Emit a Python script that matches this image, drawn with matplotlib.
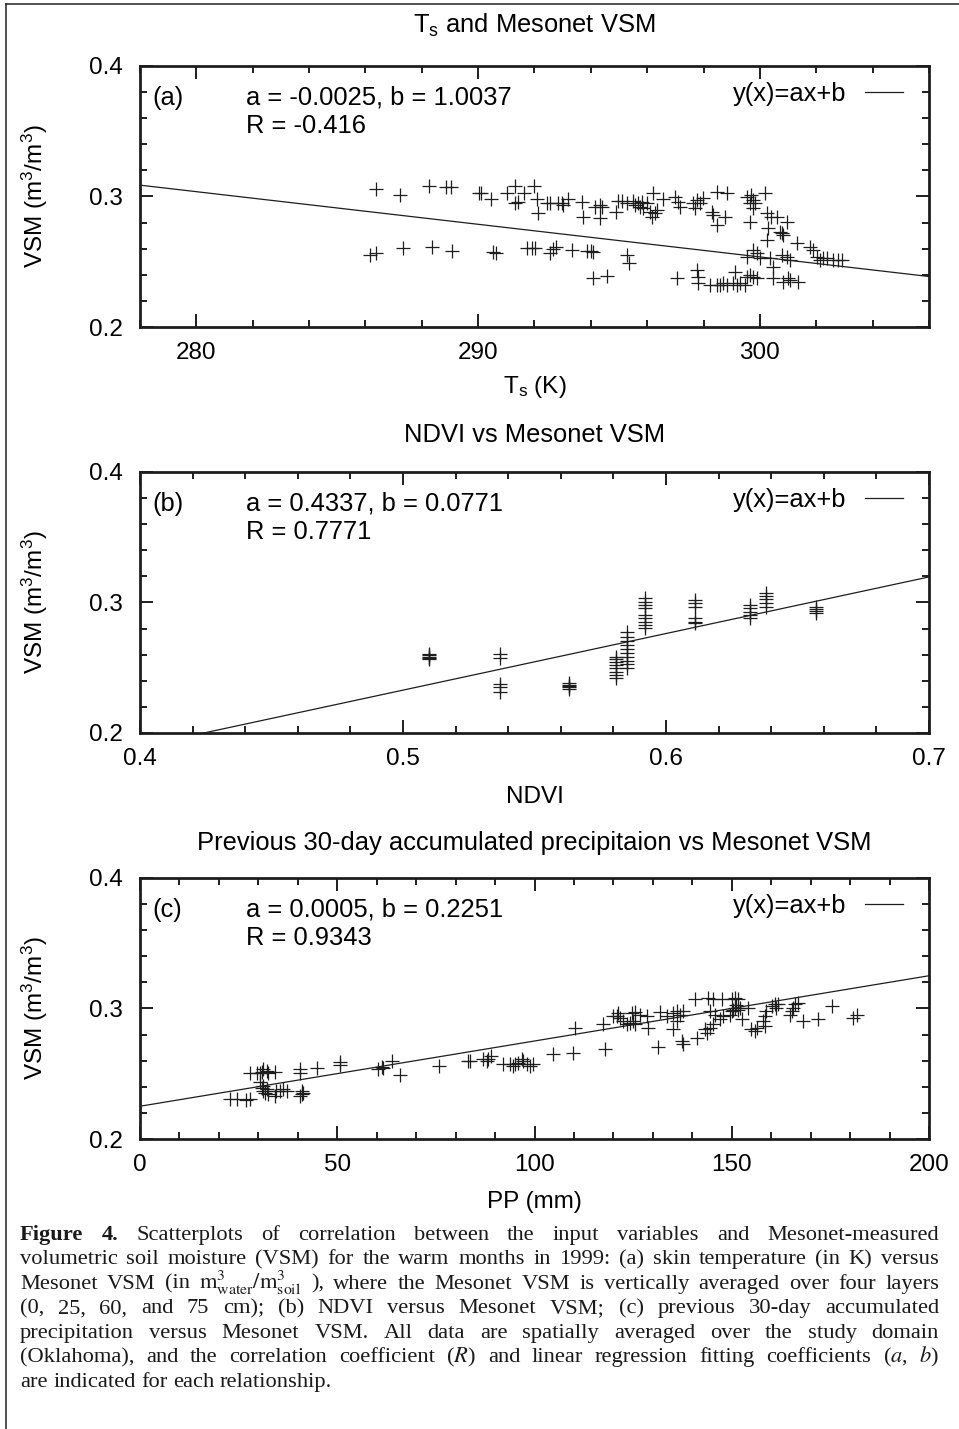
import numpy as np
import matplotlib.pyplot as plt
from matplotlib.ticker import MultipleLocator
from matplotlib.lines import Line2D

plt.rcParams['font.family'] = ['Liberation Sans', 'DejaVu Sans']
plt.rcParams['mathtext.fontset'] = 'custom'
plt.rcParams['mathtext.rm'] = 'Liberation Sans'
plt.rcParams['mathtext.it'] = 'Liberation Sans:italic'

# ---- data ----
# (a) skin temperature (K) vs VSM
ts_k = [286.37, 287.23, 288.27, 288.86, 289.05, 290.04, 290.11, 290.45, 291.01, 291.31,
        291.64, 291.98, 291.31, 291.43, 292.10, 292.43, 292.55, 292.84, 292.96, 293.02,
        292.13, 293.20, 293.67, 293.73, 294.15, 294.32, 294.38, 294.32, 294.91, 294.97,
        295.10,
        286.16, 286.37, 287.32, 288.35, 289.06, 290.54, 290.63, 291.72, 291.90, 292.02,
        292.66, 292.78, 292.55, 293.32, 293.85, 294.02, 294.08, 294.08, 294.56, 295.30,
        295.36,
        295.27, 295.50, 295.57, 295.68, 295.74, 295.80, 295.86, 295.98, 296.10, 296.16,
        296.27, 296.34, 296.21, 296.57, 296.99, 297.10, 297.16, 297.63, 297.69, 297.75,
        297.87, 297.99, 298.29, 298.35, 298.47, 298.76, 298.47, 298.82, 299.53, 299.70,
        299.76, 299.82, 299.65, 299.76, 300.18, 299.65, 300.24, 300.41, 300.59, 300.95,
        300.30, 300.24, 300.71, 300.83, 300.77, 301.30, 301.78, 301.90, 302.01, 302.13,
        302.25, 302.37, 302.60, 302.78, 302.90, 299.76, 299.88, 299.53, 300.00, 300.36,
        300.47, 300.77, 300.95, 301.07,
        297.05, 297.75, 297.81, 297.81, 298.23, 298.47, 298.58, 298.70, 298.82, 299.05,
        299.17, 299.29, 299.47, 299.53, 299.65, 299.76, 299.88, 299.11, 300.47, 300.83,
        301.00, 301.07, 301.36]
ts_vsm = [0.3057, 0.3011, 0.3080, 0.3075, 0.3075, 0.3025, 0.3025, 0.2979, 0.3030, 0.3080,
          0.3025, 0.3080, 0.2948, 0.2960, 0.2980, 0.2948, 0.2948, 0.2952, 0.2952, 0.2935,
          0.2871, 0.2980, 0.2960, 0.2845, 0.2922, 0.2935, 0.2922, 0.2833, 0.2884, 0.2968,
          0.2968,
          0.2552, 0.2565, 0.2603, 0.2615, 0.2585, 0.2577, 0.2570, 0.2608, 0.2603, 0.2603,
          0.2595, 0.2610, 0.2570, 0.2590, 0.2585, 0.2585, 0.2577, 0.2373, 0.2390, 0.2550,
          0.2488,
          0.2948, 0.2968, 0.2935, 0.2948, 0.2922, 0.2960, 0.2910, 0.2948, 0.2884, 0.2845,
          0.2871, 0.2897, 0.3025, 0.2979, 0.2999, 0.2960, 0.2922, 0.2948, 0.2910, 0.2973,
          0.2948, 0.2986, 0.2884, 0.2858, 0.2782, 0.2845, 0.3037, 0.3025, 0.2999, 0.3011,
          0.2973, 0.2948, 0.2948, 0.2910, 0.3025, 0.2807, 0.2871, 0.2845, 0.2845, 0.2807,
          0.2756, 0.2667, 0.2730, 0.2705, 0.2718, 0.2641, 0.2615, 0.2590, 0.2538, 0.2513,
          0.2526, 0.2526, 0.2513, 0.2513, 0.2513, 0.2590, 0.2565, 0.2538, 0.2526, 0.2526,
          0.2462, 0.2552, 0.2538, 0.2513,
          0.2373, 0.2437, 0.2386, 0.2335, 0.2322, 0.2322, 0.2322, 0.2335, 0.2322, 0.2335,
          0.2322, 0.2335, 0.2322, 0.2386, 0.2398, 0.2386, 0.2373, 0.2424, 0.2373, 0.2347,
          0.2373, 0.2360, 0.2347]

# (b) NDVI vs VSM
ndvi = ([0.510] * 5 + [0.537] * 5 + [0.563] * 5 + [0.581] * 8 + [0.585] * 10 +
        [0.592] * 9 + [0.611] * 6 + [0.632] * 5 + [0.638] * 5 + [0.657] * 4)
ndvi_vsm = [0.2603, 0.2585, 0.2565, 0.2575, 0.2595,
            0.2603, 0.2572, 0.2375, 0.2354, 0.2312,
            0.2340, 0.2350, 0.2360, 0.2370, 0.2380,
            0.2419, 0.2445, 0.2470, 0.2495, 0.2520, 0.2545, 0.2565, 0.2585,
            0.2496, 0.2525, 0.2555, 0.2585, 0.2615, 0.2645, 0.2675, 0.2705, 0.2735, 0.2776,
            0.3032, 0.3006, 0.2981, 0.2956, 0.2904, 0.2879, 0.2853, 0.2828, 0.2802,
            0.3019, 0.2994, 0.2968, 0.2879, 0.2853, 0.2841,
            0.2981, 0.2956, 0.2930, 0.2904, 0.2879,
            0.3070, 0.3050, 0.3024, 0.2999, 0.2968,
            0.2968, 0.2950, 0.2935, 0.2917]

# (c) 30-day precipitation (mm) vs VSM
pp = [22.8, 24.5, 26.9, 27.9, 27.9, 29.6, 30.4, 30.8, 31.3, 32.1, 32.5, 34.2, 30.4, 30.8,
      31.3, 31.7, 32.1, 31.3, 32.5, 34.6, 35.5, 36.3, 37.2, 34.2, 40.6, 40.6, 41.0, 41.0,
      41.4, 40.6, 44.8, 50.7, 50.7, 60.4, 61.3, 61.7, 63.8, 65.9, 75.9, 83.2, 83.6, 87.0,
      87.9, 88.3, 89.1, 92.1, 93.8, 95.1, 95.9, 96.8, 97.2, 98.0, 98.9, 99.7, 94.6, 104.6,
      109.8, 117.9, 110.3, 117.4, 120.0, 120.8, 121.2, 121.7, 122.5, 123.4, 124.2, 125.0,
      125.5, 124.6, 125.5, 126.7, 128.4, 128.8, 131.4, 131.8, 133.5, 135.2, 136.0, 136.9,
      137.7, 135.2, 136.0, 137.3, 137.7, 141.1, 143.2, 143.7, 144.5, 145.3, 140.7, 144.1,
      145.3, 144.5, 145.8, 147.5, 150.0, 150.8, 151.7, 147.0, 147.9, 149.5, 150.0, 150.4,
      150.8, 151.2, 151.7, 152.1, 152.5, 154.2, 155.0, 155.9, 156.3, 158.0, 158.4, 158.8,
      158.4, 160.1, 160.9, 161.8, 161.3, 164.8, 165.2, 165.6, 166.0, 166.9, 168.1, 171.9,
      175.3, 180.8, 181.7]
pp_vsm = [0.2310, 0.2310, 0.2300, 0.2305, 0.2504, 0.2504, 0.2504, 0.2514, 0.2534, 0.2521,
          0.2509, 0.2514, 0.2433, 0.2394, 0.2369, 0.2356, 0.2382, 0.2407, 0.2344, 0.2369,
          0.2369, 0.2382, 0.2369, 0.2331, 0.2534, 0.2509, 0.2369, 0.2344, 0.2356, 0.2331,
          0.2547, 0.2590, 0.2565, 0.2534, 0.2555, 0.2547, 0.2597, 0.2489, 0.2560, 0.2597,
          0.2597, 0.2610, 0.2597, 0.2610, 0.2635, 0.2573, 0.2573, 0.2573, 0.2585, 0.2610,
          0.2597, 0.2573, 0.2560, 0.2573, 0.2560, 0.2649, 0.2662, 0.2687, 0.2853, 0.2878,
          0.2941, 0.2941, 0.2967, 0.2929, 0.2903, 0.2878, 0.2891, 0.2903, 0.2878, 0.2967,
          0.2972, 0.2954, 0.2941, 0.2853, 0.2708, 0.2972, 0.2941, 0.2967, 0.2980, 0.2954,
          0.2980, 0.2840, 0.2903, 0.2751, 0.2725, 0.2776, 0.2840, 0.2815, 0.2853, 0.2878,
          0.3069, 0.3081, 0.3069, 0.2980, 0.2954, 0.3069, 0.3069, 0.3081, 0.3069, 0.2916,
          0.2941, 0.2954, 0.2980, 0.2992, 0.3005, 0.3030, 0.2992, 0.3005, 0.2916, 0.3005,
          0.2840, 0.2827, 0.2853, 0.2903, 0.2941, 0.2980, 0.2865, 0.3018, 0.3031, 0.3031,
          0.3005, 0.2954, 0.2980, 0.3005, 0.3031, 0.3043, 0.2903, 0.2921, 0.3018, 0.2929,
          0.2954]

# regression lines as drawn (slope, intercept)
fit_a = (-0.0025, 1.0037)
fit_b = (0.4337, 0.0160)   # drawn line sits lower than the printed b
fit_c = (0.0005, 0.2251)

labels_a = ('a = -0.0025, b = 1.0037', 'R = -0.416')
labels_b = ('a = 0.4337, b = 0.0771', 'R = 0.7771')
labels_c = ('a = 0.0005, b = 0.2251', 'R = 0.9343')

# ---- layout ----
W, H = 959, 1429
FS = 17.5      # tick labels, axis labels
FS_T = 18.4    # titles and in-panel text
fig = plt.figure(figsize=(W / 100, H / 100), dpi=100)

AX_L, AX_R = 140, 929


def panel(top, bottom, x, y, fit, xlim, xmaj, xmin, tag, txt, title, xlabel, title_y, xlabel_y):
    ax = fig.add_axes([AX_L / W, 1 - bottom / H, (AX_R - AX_L) / W, (bottom - top) / H])
    ax.plot(x, y, ls='none', marker='+', ms=10, mew=0.9, color='#1e1e1e')
    xx = np.array(xlim)
    ax.plot(xx, fit[0] * xx + fit[1], color='#1e1e1e', lw=0.9, label='y(x)=ax+b')
    ax.set_xlim(xlim)
    ax.set_ylim(0.2, 0.4)
    ax.xaxis.set_major_locator(MultipleLocator(xmaj))
    ax.xaxis.set_minor_locator(MultipleLocator(xmin))
    ax.yaxis.set_major_locator(MultipleLocator(0.1))
    ax.yaxis.set_minor_locator(MultipleLocator(0.02))
    ax.tick_params(which='both', direction='in', top=True, right=True, width=1.4,
                   labelsize=FS, color='#1e1e1e')
    ax.tick_params(which='major', length=9.5)
    ax.tick_params(which='minor', length=5)
    ax.tick_params(axis='x', pad=11)
    ax.tick_params(axis='y', pad=12)
    ax.yaxis.set_major_formatter(plt.FuncFormatter(lambda v, p: '%g' % round(v, 3)))
    ax.xaxis.set_major_formatter(plt.FuncFormatter(lambda v, p: '%g' % round(v, 3)))
    for s in ax.spines.values():
        s.set_linewidth(2)
        s.set_color('#1e1e1e')
    h = bottom - top
    ax.text(12 / 789, 1 - 32 / h, tag, transform=ax.transAxes, fontsize=FS_T, va='center')
    ax.text(106 / 789, 1 - 32 / h, txt[0], transform=ax.transAxes, fontsize=FS_T, va='center')
    ax.text(106 / 789, 1 - 60 / h, txt[1], transform=ax.transAxes, fontsize=FS_T, va='center')
    ax.legend(loc='upper right', bbox_to_anchor=(1 - 26 / 789, 1 - 16 / h),
              borderaxespad=0, borderpad=0, frameon=False, markerfirst=False,
              handlelength=1.5, handletextpad=0.7, fontsize=FS_T)
    cx = (AX_L + AX_R) / 2
    fig.text(cx / W, 1 - title_y / H, title, fontsize=FS_T, ha='center', va='center')
    fig.text(cx / W, 1 - xlabel_y / H, xlabel, fontsize=FS, ha='center', va='center')
    fig.text(35 / W, 1 - (top + bottom) / 2 / H, 'VSM (m$^3$/m$^3$)', fontsize=FS,
             rotation=90, ha='center', va='center')
    return ax


panel(66, 327, ts_k, ts_vsm, fit_a, (278, 306), 10, 2, '(a)', labels_a,
      r'$\mathrm{T_s}$ and Mesonet VSM', r'$\mathrm{T_s}$ (K)', 25, 387)
panel(472, 733, ndvi, ndvi_vsm, fit_b, (0.4, 0.7), 0.1, 0.02, '(b)', labels_b,
      'NDVI vs Mesonet VSM', 'NDVI', 435, 797)
panel(878, 1139, pp, pp_vsm, fit_c, (0, 200), 50, 10, '(c)', labels_c,
      'Previous 30-day accumulated precipitaion vs Mesonet VSM', 'PP (mm)', 843, 1202)

# ---- frame lines of the figure box ----
fig.add_artist(Line2D([6 / W, 1], [1 - 4 / H, 1 - 4 / H], transform=fig.transFigure,
                      color='#222222', lw=1.1))
fig.add_artist(Line2D([6 / W, 6 / W], [0, 1 - 4 / H], transform=fig.transFigure,
                      color='#222222', lw=1.1))

# ---- caption, justified ----
caption = [
    'Figure 4. Scatterplots of correlation between the input variables and Mesonet-measured',
    'volumetric soil moisture (VSM) for the warm months in 1999: (a) skin temperature (in K) versus',
    r'Mesonet VSM (in $\mathrm{m}^3_{\mathrm{water}}/\mathrm{m}^3_{\mathrm{soil}}$ ), where the Mesonet VSM is vertically averaged over four layers',
    '(0, 25, 60, and 75 cm); (b) NDVI versus Mesonet VSM; (c) previous 30-day accumulated',
    'precipitation versus Mesonet VSM. All data are spatially averaged over the study domain',
    r'(Oklahoma), and the correlation coefficient ($R$) and linear regression fitting coefficients ($a$, $b$)',
    'are indicated for each relationship.',
]
CAP_FS = 16.2
cap_x0, cap_x1 = 20, 939
cap_y0, cap_dy = 1240, 24.45
renderer = fig.canvas.get_renderer()
for i, line in enumerate(caption):
    words = line.split(' ')
    y = 1 - (cap_y0 + i * cap_dy) / H
    texts = []
    for j, w in enumerate(words):
        bold = (i == 0 and j < 2)
        t = fig.text(0, y, w, fontsize=CAP_FS, family=['Liberation Serif', 'DejaVu Serif'],
                     math_fontfamily='stix', fontweight='bold' if bold else 'normal',
                     va='baseline', color='#1a1a1a')
        texts.append(t)
    widths = [t.get_window_extent(renderer).width for t in texts]
    if i < len(caption) - 1:
        gap = (cap_x1 - cap_x0 - sum(widths)) / (len(words) - 1)
    else:
        gap = CAP_FS * 0.25 * 100 / 72
    x = cap_x0
    for t, w in zip(texts, widths):
        t.set_x(x / W)
        x += w + gap

fig.savefig('out.png', dpi=100)
